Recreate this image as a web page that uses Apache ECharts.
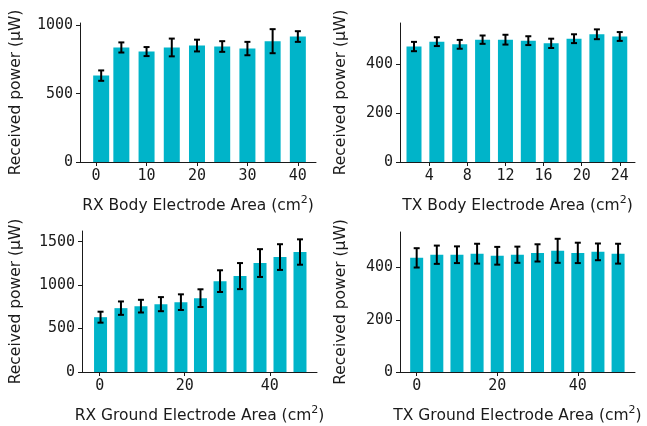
<!DOCTYPE html>
<html>
<head>
<meta charset="utf-8">
<script src="https://cdn.jsdelivr.net/npm/echarts@6/dist/echarts.min.js"></script>
<style>
  html, body { margin: 0; padding: 0; background: #ffffff; }
  #chart { width: 647px; height: 426px; }
</style>
</head>
<body>
<div id="chart"></div>
<script>
// Received power vs. electrode area, four panels (mean ± std)

// RX body electrode sweep
const rxBodyArea  = [1, 5, 10, 15, 20, 25, 30, 35, 40];
const rxBodyPower = [632, 838, 808, 838, 852, 845, 830, 884, 918];
const rxBodyErr   = [38, 37, 33, 65, 43, 39, 49, 88, 39];

// TX body electrode sweep
const txBodyArea  = [2.4, 4.8, 7.2, 9.6, 12, 14.4, 16.8, 19.2, 21.6, 24];
const txBodyPower = [471, 491, 480, 499, 499, 495, 484, 503, 521, 512];
const txBodyErr   = [19, 18, 18, 17, 20, 18, 19, 18, 20, 18];

// RX ground electrode sweep
const rxGndArea  = [0.2, 5.0, 9.7, 14.4, 19.1, 23.7, 28.3, 33.0, 37.7, 42.4, 47.1];
const rxGndPower = [631, 735, 758, 781, 804, 850, 1046, 1104, 1254, 1323, 1381];
const rxGndErr   = [63, 77, 73, 81, 90, 102, 125, 150, 160, 148, 146];

// TX ground electrode sweep
const txGndArea  = [0, 5, 10, 15, 20, 25, 30, 35, 40, 45, 50];
const txGndPower = [437, 449, 449, 453, 445, 449, 456, 464, 456, 460, 453];
const txGndErr   = [37, 35, 32, 38, 34, 31, 33, 46, 39, 32, 38];

// Tick values
const rxBodyXTicks = [0, 10, 20, 30, 40];
const rxBodyYTicks = [0, 500, 1000];
const txBodyXTicks = [4, 8, 12, 16, 20, 24];
const txBodyYTicks = [0, 200, 400];
const rxGndXTicks  = [0, 20, 40];
const rxGndYTicks  = [0, 500, 1000, 1500];
const txGndXTicks  = [0, 20, 40];
const txGndYTicks  = [0, 200, 400];

const BAR = '#00b4c9';
const INK = '#1a1a1a';
const tickFont = 'DejaVu Sans Mono';
const nameFont = 'DejaVu Sans';

const panels = [
  { area: rxBodyArea, power: rxBodyPower, err: rxBodyErr, xt: rxBodyXTicks, yt: rxBodyYTicks,
    xLabel: 'RX Body Electrode Area', xr: [-3.2, 43.6], yMax: 1017, barW: 16, yGap: 56,
    grid: { left: 80, top: 23, width: 236, height: 139 } },
  { area: txBodyArea, power: txBodyPower, err: txBodyErr, xt: txBodyXTicks, yt: txBodyYTicks,
    xLabel: 'TX Body Electrode Area', xr: [0.93, 25.6], yMax: 567, barW: 15, yGap: 51,
    grid: { left: 400, top: 23, width: 235, height: 139 } },
  { area: rxGndArea, power: rxGndPower, err: rxGndErr, xt: rxGndXTicks, yt: rxGndYTicks,
    xLabel: 'RX Ground Electrode Area', xr: [-4.16, 51.1], yMax: 1623, barW: 13, yGap: 58,
    grid: { left: 82, top: 231, width: 235, height: 141 } },
  { area: txGndArea, power: txGndPower, err: txGndErr, xt: txGndXTicks, yt: txGndYTicks,
    xLabel: 'TX Ground Electrode Area', xr: [-4.14, 54.2], yMax: 536, barW: 13, yGap: 51,
    grid: { left: 400, top: 232, width: 235, height: 140 } }
];

const nameStyle = {
  fontFamily: nameFont, fontSize: 15.5, color: INK,
  rich: {
    sup: { fontFamily: nameFont, fontSize: 11, color: INK, padding: [0, 0, 10, 0] }
  }
};

const grid = [], xAxis = [], yAxis = [], series = [];

panels.forEach((p, i) => {
  grid.push(Object.assign({ containLabel: false, outerBoundsMode: 'none' }, p.grid));
  xAxis.push({
    type: 'value', gridIndex: i, min: p.xr[0], max: p.xr[1],
    name: p.xLabel + ' (cm{sup|2})', nameLocation: 'middle', nameGap: 33,
    nameTextStyle: nameStyle,
    axisLine: { show: true, onZero: false, lineStyle: { color: INK, width: 1 } },
    axisTick: { show: true, length: 4, lineStyle: { color: INK }, customValues: p.xt },
    axisLabel: { fontFamily: tickFont, fontSize: 15, color: INK, margin: 7, customValues: p.xt,
                 formatter: v => String(v) },
    splitLine: { show: false }
  });
  yAxis.push({
    type: 'value', gridIndex: i, min: 0, max: p.yMax,
    name: 'Received power (µW)', nameLocation: 'middle', nameRotate: 90, nameGap: p.yGap,
    nameTextStyle: { fontFamily: nameFont, fontSize: 15.5, color: INK },
    axisLine: { show: true, onZero: false, lineStyle: { color: INK, width: 1 } },
    axisTick: { show: true, length: 4, lineStyle: { color: INK }, customValues: p.yt },
    axisLabel: { fontFamily: tickFont, fontSize: 15, color: INK, margin: 7, customValues: p.yt,
                 formatter: v => String(v) },
    splitLine: { show: false }
  });
  series.push({
    type: 'bar', xAxisIndex: i, yAxisIndex: i, barWidth: p.barW,
    itemStyle: { color: BAR },
    data: p.area.map((a, k) => [a, p.power[k]]),
    silent: true, animation: false
  });
  series.push({
    type: 'custom', xAxisIndex: i, yAxisIndex: i, silent: true, animation: false, z: 5,
    data: p.area.map((a, k) => [a, p.power[k] - p.err[k], p.power[k] + p.err[k]]),
    renderItem: (params, api) => {
      const lo = api.coord([api.value(0), api.value(1)]);
      const hi = api.coord([api.value(0), api.value(2)]);
      const cap = 3;
      const st = { stroke: '#000', lineWidth: 2 };
      return {
        type: 'group',
        children: [
          { type: 'line', shape: { x1: lo[0], y1: lo[1], x2: hi[0], y2: hi[1] }, style: st },
          { type: 'line', shape: { x1: lo[0] - cap, y1: lo[1], x2: lo[0] + cap, y2: lo[1] }, style: st },
          { type: 'line', shape: { x1: hi[0] - cap, y1: hi[1], x2: hi[0] + cap, y2: hi[1] }, style: st }
        ]
      };
    }
  });
});

const chart = echarts.init(document.getElementById('chart'), null, { renderer: 'canvas' });
chart.setOption({ animation: false, grid, xAxis, yAxis, series });
</script>
</body>
</html>
